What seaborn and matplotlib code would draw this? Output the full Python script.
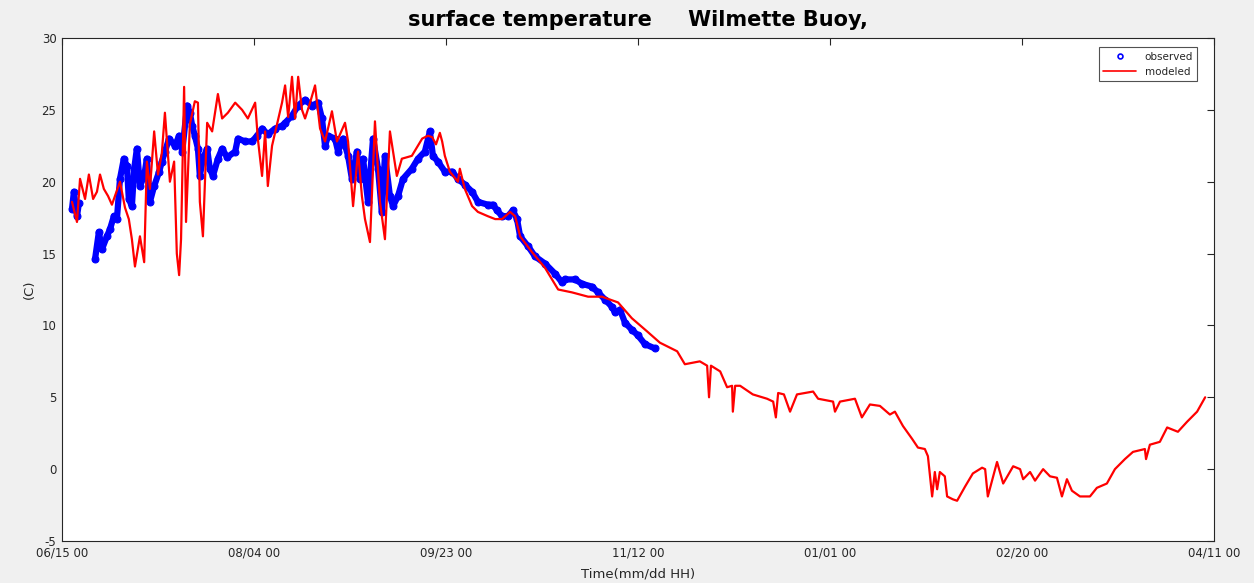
import numpy as np
import pandas as pd
import matplotlib
matplotlib.use("Agg")
import matplotlib.pyplot as plt
from matplotlib.lines import Line2D
import seaborn as sns

# ---------------- data (days since 06/15 00) ----------------
model_day = [2.6, 3.9, 4.7, 6.0, 7.0, 8.1, 9.1, 9.9, 10.9, 12.0, 13.0, 15.1, 16.4, 17.4, 18.2,
             19.0, 20.3, 21.4, 22.1, 22.9, 24.0, 25.0, 26.0, 26.8, 28.1, 29.2, 29.9, 30.5, 31.0,
             31.8, 32.3, 33.3, 34.6, 35.4, 35.9, 36.7, 37.8, 39.1, 40.6, 41.7, 43.2, 45.1, 46.9,
             48.4, 50.3, 51.0, 52.1, 52.9, 53.6, 54.7, 56.0, 57.3, 58.1, 58.9, 59.9, 60.7, 61.5,
             62.5, 63.3, 64.6, 65.9, 67.2, 68.5, 70.3, 71.6, 73.7, 74.5, 75.8, 77.1, 78.1, 78.9,
             80.2, 81.5, 82.8, 84.1, 85.4, 87.2, 88.5, 91.1, 93.8, 95.3, 96.4, 97.4, 98.4, 99.0,
             99.7, 101.0, 103.1, 103.6, 104.9, 106.8, 108.3, 110.9, 112.8, 114.6, 116.7, 118.0,
             119.3, 122.4, 125.8, 129.2, 132.8, 137.0, 140.6, 144.8, 148.4, 152.3, 155.7, 160.2,
             162.2, 166.1, 168.0, 168.5, 169.0, 171.4, 173.2, 174.5, 174.7, 175.3, 176.6, 179.9,
             183.6, 185.2, 185.9, 186.5, 188.0, 189.6, 191.4, 195.6, 196.9, 200.8, 201.3, 202.6,
             206.5, 208.3, 210.4, 213.0, 215.6, 216.9, 219.0, 221.4, 222.9, 224.7, 225.5, 226.6,
             227.3, 227.9, 228.6, 229.9, 230.5, 232.0, 233.1, 235.2, 237.2, 239.6, 240.4, 241.1,
             242.2, 243.5, 245.1, 247.7, 249.5, 250.3, 252.1, 253.4, 255.5, 257.3, 259.1, 260.4,
             261.7, 263.0, 265.1, 267.7, 269.5, 272.1, 274.2, 276.8, 278.9, 282.0, 282.3, 283.3,
             285.9, 287.8, 290.6, 293.0, 295.6, 297.7]
model_temp = [18.6, 17.2, 20.2, 18.8, 20.5, 18.8, 19.3, 20.5, 19.5, 19.0, 18.4, 20.0, 18.2, 17.4, 16.0,
              14.1, 16.2, 14.4, 21.4, 19.5, 23.5, 20.5, 22.0, 24.8, 20.0, 21.4, 15.0, 13.5, 16.0,
              26.6, 17.2, 24.0, 25.6, 25.5, 18.6, 16.2, 24.1, 23.5, 26.1, 24.4, 24.8, 25.5, 25.0,
              24.4, 25.5, 23.0, 20.4, 23.5, 19.7, 22.5, 24.0, 25.5, 26.7, 24.5, 27.3, 24.4, 27.3,
              25.0, 24.4, 25.5, 26.7, 23.7, 22.8, 24.9, 22.8, 24.1, 22.8, 18.3, 22.1, 19.0, 17.4,
              15.8, 24.2, 18.6, 16.0, 23.5, 20.4, 21.6, 21.8, 23.0, 23.2, 23.1, 22.6, 23.4, 22.8,
              21.8, 20.7, 20.0, 20.9, 19.5, 18.3, 17.9, 17.6, 17.4, 17.4, 17.9, 17.6,
              16.2, 15.1, 14.0, 12.5, 12.3, 12.0, 12.0, 11.6, 10.5, 9.6, 8.8, 8.2,
              7.3, 7.5, 7.2, 5.0, 7.2, 6.8, 5.7, 5.8, 4.0, 5.8, 5.8, 5.2,
              4.9, 4.7, 3.6, 5.3, 5.2, 4.0, 5.2, 5.4, 4.9, 4.7, 4.0, 4.7,
              4.9, 3.6, 4.5, 4.4, 3.8, 4.0, 3.0, 2.1, 1.5, 1.4, 0.9, -1.9,
              -0.2, -1.4, -0.2, -0.5, -1.9, -2.1, -2.2, -1.2, -0.3, 0.1, 0.0, -1.9,
              -0.8, 0.5, -1.0, 0.2, 0.0, -0.7, -0.2, -0.8, 0.0, -0.5, -0.6, -1.9,
              -0.7, -1.5, -1.9, -1.9, -1.3, -1.0, 0.0, 0.7, 1.2, 1.4, 0.7, 1.7,
              1.9, 2.9, 2.6, 3.3, 4.0, 5.0]

obs_day = [2.6, 3.1, 3.9, 4.4, 8.6, 9.6, 10.4, 11.7, 12.5, 13.5, 14.3, 15.1, 16.1, 16.9,
           17.4, 18.2, 18.8, 19.5, 20.3, 21.4, 22.1, 22.9, 24.0, 25.3, 26.0, 26.8, 27.9, 29.4,
           30.5, 31.3, 32.6, 33.3, 33.9, 34.6, 35.4, 35.9, 36.7, 37.8, 38.5, 39.3, 40.6, 41.7,
           43.0, 45.1, 45.8, 47.7, 49.5, 50.8, 52.1, 53.6, 55.5, 57.3, 58.1, 59.9, 61.5, 63.3,
           65.1, 66.7, 67.7, 68.5, 69.3, 71.1, 71.9, 73.2, 74.5, 75.5, 76.8, 77.6, 78.4, 79.7,
           81.0, 82.3, 83.3, 84.1, 85.4, 86.2, 87.5, 88.8, 91.1, 92.7, 94.5, 95.8, 96.6, 97.9,
           99.7, 101.6, 103.1, 104.9, 106.8, 108.3, 110.9, 112.2, 113.3, 114.6, 116.1, 117.4,
           118.5, 119.3, 121.4, 123.2, 125.8, 128.4, 130.2, 131.0, 133.6, 135.4, 138.0, 139.6,
           141.4, 143.2, 144.0, 145.3, 146.6, 148.4, 150.0, 151.8, 154.4]
obs_temp = [18.1, 19.3, 17.6, 18.5, 14.6, 16.5, 15.3, 16.2, 16.7, 17.6, 17.4, 20.2, 21.6, 21.1,
            18.8, 18.3, 20.9, 22.3, 19.7, 20.4, 21.6, 18.6, 19.7, 20.7, 21.4, 22.1, 23.0, 22.5,
            23.2, 22.1, 25.3, 24.8, 23.9, 23.2, 22.3, 20.4, 21.6, 22.3, 20.9, 20.4, 21.6, 22.3,
            21.7, 22.1, 23.0, 22.8, 22.8, 23.2, 23.7, 23.3, 23.7, 23.9, 24.1, 24.6, 25.3, 25.7,
            25.3, 25.5, 24.4, 22.5, 23.2, 23.0, 22.1, 23.0, 21.8, 20.2, 22.1, 20.2, 21.6, 18.6,
            23.0, 20.9, 17.9, 21.8, 19.0, 18.3, 19.0, 20.2, 20.9, 21.6, 22.1, 23.5, 21.8, 21.4,
            20.7, 20.7, 20.2, 19.8, 19.3, 18.6, 18.4, 18.4, 18.0, 17.6, 17.6, 18.0,
            17.4, 16.2, 15.5, 14.8, 14.3, 13.6, 13.0, 13.2, 13.2, 12.9, 12.7, 12.3,
            11.8, 11.3, 10.9, 11.1, 10.2, 9.7, 9.3, 8.7, 8.4]

tick_days = [0, 50, 100, 150, 200, 250, 300]
tick_labels = ["06/15 00", "08/04 00", "09/23 00", "11/12 00", "01/01 00", "02/20 00", "04/11 00"]
y_ticks = [-5, 0, 5, 10, 15, 20, 25, 30]

# ---------------- plot ----------------
sns.set_style("white")
plt.rcParams['font.family'] = ['DejaVu Sans']
plt.rcParams['axes.unicode_minus'] = False

fig = plt.figure(figsize=(12.54, 5.83), dpi=100, facecolor="#f0f0f0")
ax = fig.add_axes([62 / 1254, 42 / 583, 1152 / 1254, 503 / 583])
ax.set_facecolor("white")

obs_df = pd.DataFrame({"day": obs_day, "temp": obs_temp})
# split observation record where there is a gap in the data (> 3 days)
obs_df["seg"] = (obs_df["day"].diff() > 3).cumsum()
mod_df = pd.DataFrame({"day": model_day, "temp": model_temp})

# observed: dense blue circles appearing as a thick band
sns.lineplot(data=obs_df, x="day", y="temp", units="seg", ax=ax, sort=False, estimator=None,
             color="#0000ff", linewidth=4.5, marker="o", markersize=5,
             markeredgecolor="#0000ff", markerfacecolor="#0000ff", zorder=2)
# modeled: red line
sns.lineplot(data=mod_df, x="day", y="temp", ax=ax, sort=False, estimator=None,
             color="#ff0000", linewidth=1.6, zorder=3)

ax.set_xlim(0, 300)
ax.set_ylim(-5, 30)
ax.set_xticks(tick_days)
ax.set_xticklabels(tick_labels)
ax.set_yticks(y_ticks)

for s in ax.spines.values():
    s.set_color("#262626")
    s.set_linewidth(0.8)
ax.tick_params(direction="in", length=5, width=0.8, color="#262626",
               top=True, right=True, labelsize=8.5, labelcolor="#262626", pad=4)

ax.set_xlabel("Time(mm/dd HH)", fontsize=9.5, color="#262626", labelpad=6)
ax.set_ylabel("(C)", fontsize=9.5, color="#262626", labelpad=4)
ax.set_title("surface temperature     Wilmette Buoy,", fontsize=15, fontweight="bold",
             color="black", pad=9)

handles = [Line2D([], [], color="#0000ff", marker="o", linestyle="none", markersize=3.5,
                  markerfacecolor="none", markeredgewidth=1.2),
           Line2D([], [], color="#ff0000", linewidth=1.2)]
leg = ax.legend(handles, ["observed", "modeled"], loc="upper right", fontsize=7.5,
                frameon=True, fancybox=False, edgecolor="#262626", borderpad=0.4,
                handlelength=3.2, handletextpad=0.8, borderaxespad=0.9,
                bbox_to_anchor=(0.9935, 1.0))
leg.get_frame().set_linewidth(0.8)

fig.savefig("out.png", dpi=100, facecolor=fig.get_facecolor())
